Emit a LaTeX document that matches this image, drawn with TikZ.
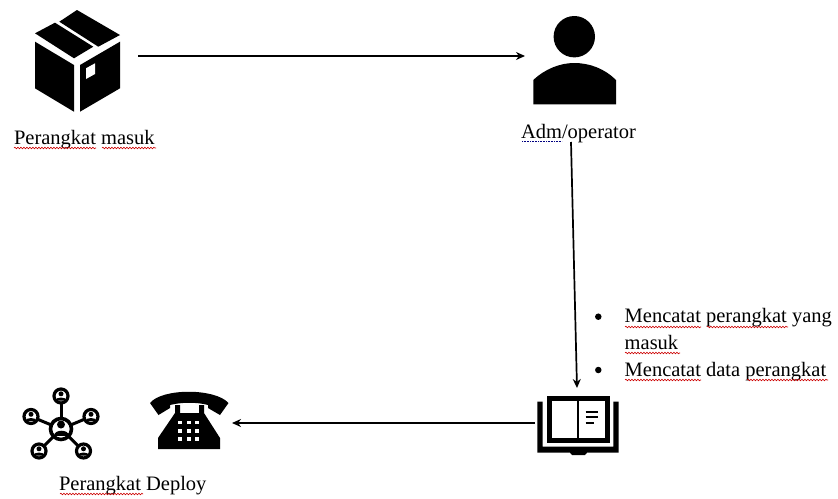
\documentclass[tikz,border=0pt]{standalone}
\usepackage{fontspec}
\setmainfont{Liberation Serif}
\usetikzlibrary{arrows.meta,decorations.pathmorphing,positioning}

\begin{document}
\begin{tikzpicture}
          [x=1pt,y=-1pt,
            every node/.style={inner sep=0pt,outer sep=0pt},
            word/.style={anchor=base west,font=\fontsize{20.5}{24}\selectfont},
            icon/.style={draw=none,fill=none,rectangle},
            flow/.style={draw,line width=1.7pt,-{Stealth[length=9pt,width=8pt]}},
            squig/.style={draw=red!80!black,line width=0.6pt,decorate,decoration={snake,amplitude=0.8pt,segment length=3pt}},
            grammar/.style={draw=blue!50!black,line width=0.6pt,densely dotted},
            hole/.style={fill=white,draw=none},
            solid ink/.style={fill=black,draw=none},
            listdot/.style={circle,fill=black,minimum size=6.5pt},
          ]
          \useasboundingbox (0,0) rectangle (838,498);

          % icon places
          \node[icon,minimum width=122pt,minimum height=102pt] (box) at (77,56) {};
          \node[icon,minimum width=100pt,minimum height=90pt] (person) at (575,56) {};
          \node[icon,minimum width=84pt,minimum height=76pt] (book) at (577,423) {};
          \node[icon,minimum width=88pt,minimum height=60pt] (phone) at (188,423) {};

          % box
          \fill[solid ink] (77,10) -- (120,35) -- (98.3,46.7) -- (59.3,21.7) -- cycle;
          \fill[solid ink] (35,33.3) -- (55,22.7) -- (93.3,46.7) -- (74,58.3) -- cycle;
          \fill[solid ink] (35,41.7) -- (74,65) -- (74,111.7) -- (35,88.3) -- cycle;
          \fill[solid ink] (80,65) -- (120,41.7) -- (120,88.3) -- (80,111.7) -- cycle;
          \fill[hole] (86,68.3) -- (95,63.3) -- (95,74) -- (86,79) -- cycle;

          % person
          \fill[solid ink] (574.3,36.7) circle (20.7);
          \fill[solid ink] (533.3,104.3) -- (533.3,80) .. controls (545,69) and (560,63) .. (574.3,63)
            .. controls (590,63) and (605,69) .. (616,80) -- (616,104.3) -- cycle;

          % book
          \draw[line width=5pt] (549,398.5) rectangle (607.5,440.5);
          \draw[line width=1.8pt] (578,398) -- (578,441);
          \fill[solid ink] (537.3,401.7) -- (542.7,401.7) -- (542.7,446.7) -- (613.3,446.7) -- (613.3,401.7)
            -- (618.7,401.7) -- (618.7,452.7) -- (587,452.7) -- (585,455) -- (572,455) -- (570,452.7) -- (537.3,452.7) -- cycle;
          \draw[line width=2pt] (585.7,411.7) -- (598.3,411.7) (585.7,417) -- (598.3,417) (585.7,422.7) -- (594,422.7);

          % phone
          \fill[solid ink] (150,403) .. controls (162,388) and (215,388) .. (228.5,403)
            -- (220,415) -- (208,408) -- (208,405) .. controls (197,402) and (182,402) .. (170,405)
            -- (170,408) -- (158.5,415) -- cycle;
          \fill[solid ink] (175,405) -- (180,405) -- (180,413) -- (199,413) -- (199,405) -- (204,405) -- (204,413)
            -- (220,438) -- (220,449) -- (158,449) -- (158,438) -- (175,413) -- cycle;
          \foreach \kx in {180,188.5,197}
            \foreach \ky in {422.5,431,439}
              \fill[hole] (\kx,\ky) ++(-2,-1.7) rectangle ++(4,3.4);

          % network
          \node[circle,draw,line width=3.6pt,fill=white,minimum size=21pt] (hub) at (61,429) {};
          \foreach \sat/\sx/\sy in {a/61/396,b/31/416.5,c/91/416.5,d/39/451,e/83.5/451} {
            \node[circle,draw,line width=3.2pt,fill=white,minimum size=14pt] (\sat) at (\sx,\sy) {};
            \draw[line width=3pt] (hub) -- (\sat);
            \fill[solid ink] (\sx,\sy-2.2) circle (2.5);
            \fill[solid ink] (\sx-5.5,\sy+4.5) .. controls (\sx-5,\sy+0.5) and (\sx+5,\sy+0.5) .. (\sx+5.5,\sy+4.5) -- cycle;
          }
          \fill[solid ink] (61,424.5) circle (4);
          \fill[solid ink] (53.5,436) .. controls (53.5,428.5) and (68.5,428.5) .. (68.5,436) -- cycle;

          % flow
          \coordinate (oplabel) at (571,142);
          \coordinate (bookin) at (577,388);
          \draw[flow] (box.east) -- (person.west);
          \draw[flow] (oplabel) -- (bookin);
          \draw[flow] (book.west) -- (phone.east);

          % labels
          \node[word] (masuk) at (14,144) {Perangkat masuk};
          \node[word] (operator) at (521,138) {Adm/operator};
          \node[word] (deploy) at (59,490) {Perangkat Deploy};

          % notes
          \node[listdot] (dot1) at (598.3,316.7) {};
          \node[word] (note1) at (624.7,322) {Mencatat perangkat yang};
          \node[word,below=27pt of note1.base west,anchor=base west] (note2) {masuk};
          \node[listdot] (dot2) at (598.3,370) {};
          \node[word,below=27pt of note2.base west,anchor=base west] (note3) {Mencatat data perangkat};

          % spell check
          \draw[squig] (14,148) -- (96,148);
          \draw[squig] (102,148) -- (156,148);
          \draw[grammar] (522,141.5) -- (562,141.5);
          \draw[squig] (60,494) -- (143,494);
          \draw[squig] (625,327) -- (701,327);
          \draw[squig] (707,327) -- (788,327);
          \draw[squig] (625,353) -- (680,353);
          \draw[squig] (625,380) -- (701,380);
          \draw[squig] (747,380) -- (828,380);
        \end{tikzpicture}
\end{document}
